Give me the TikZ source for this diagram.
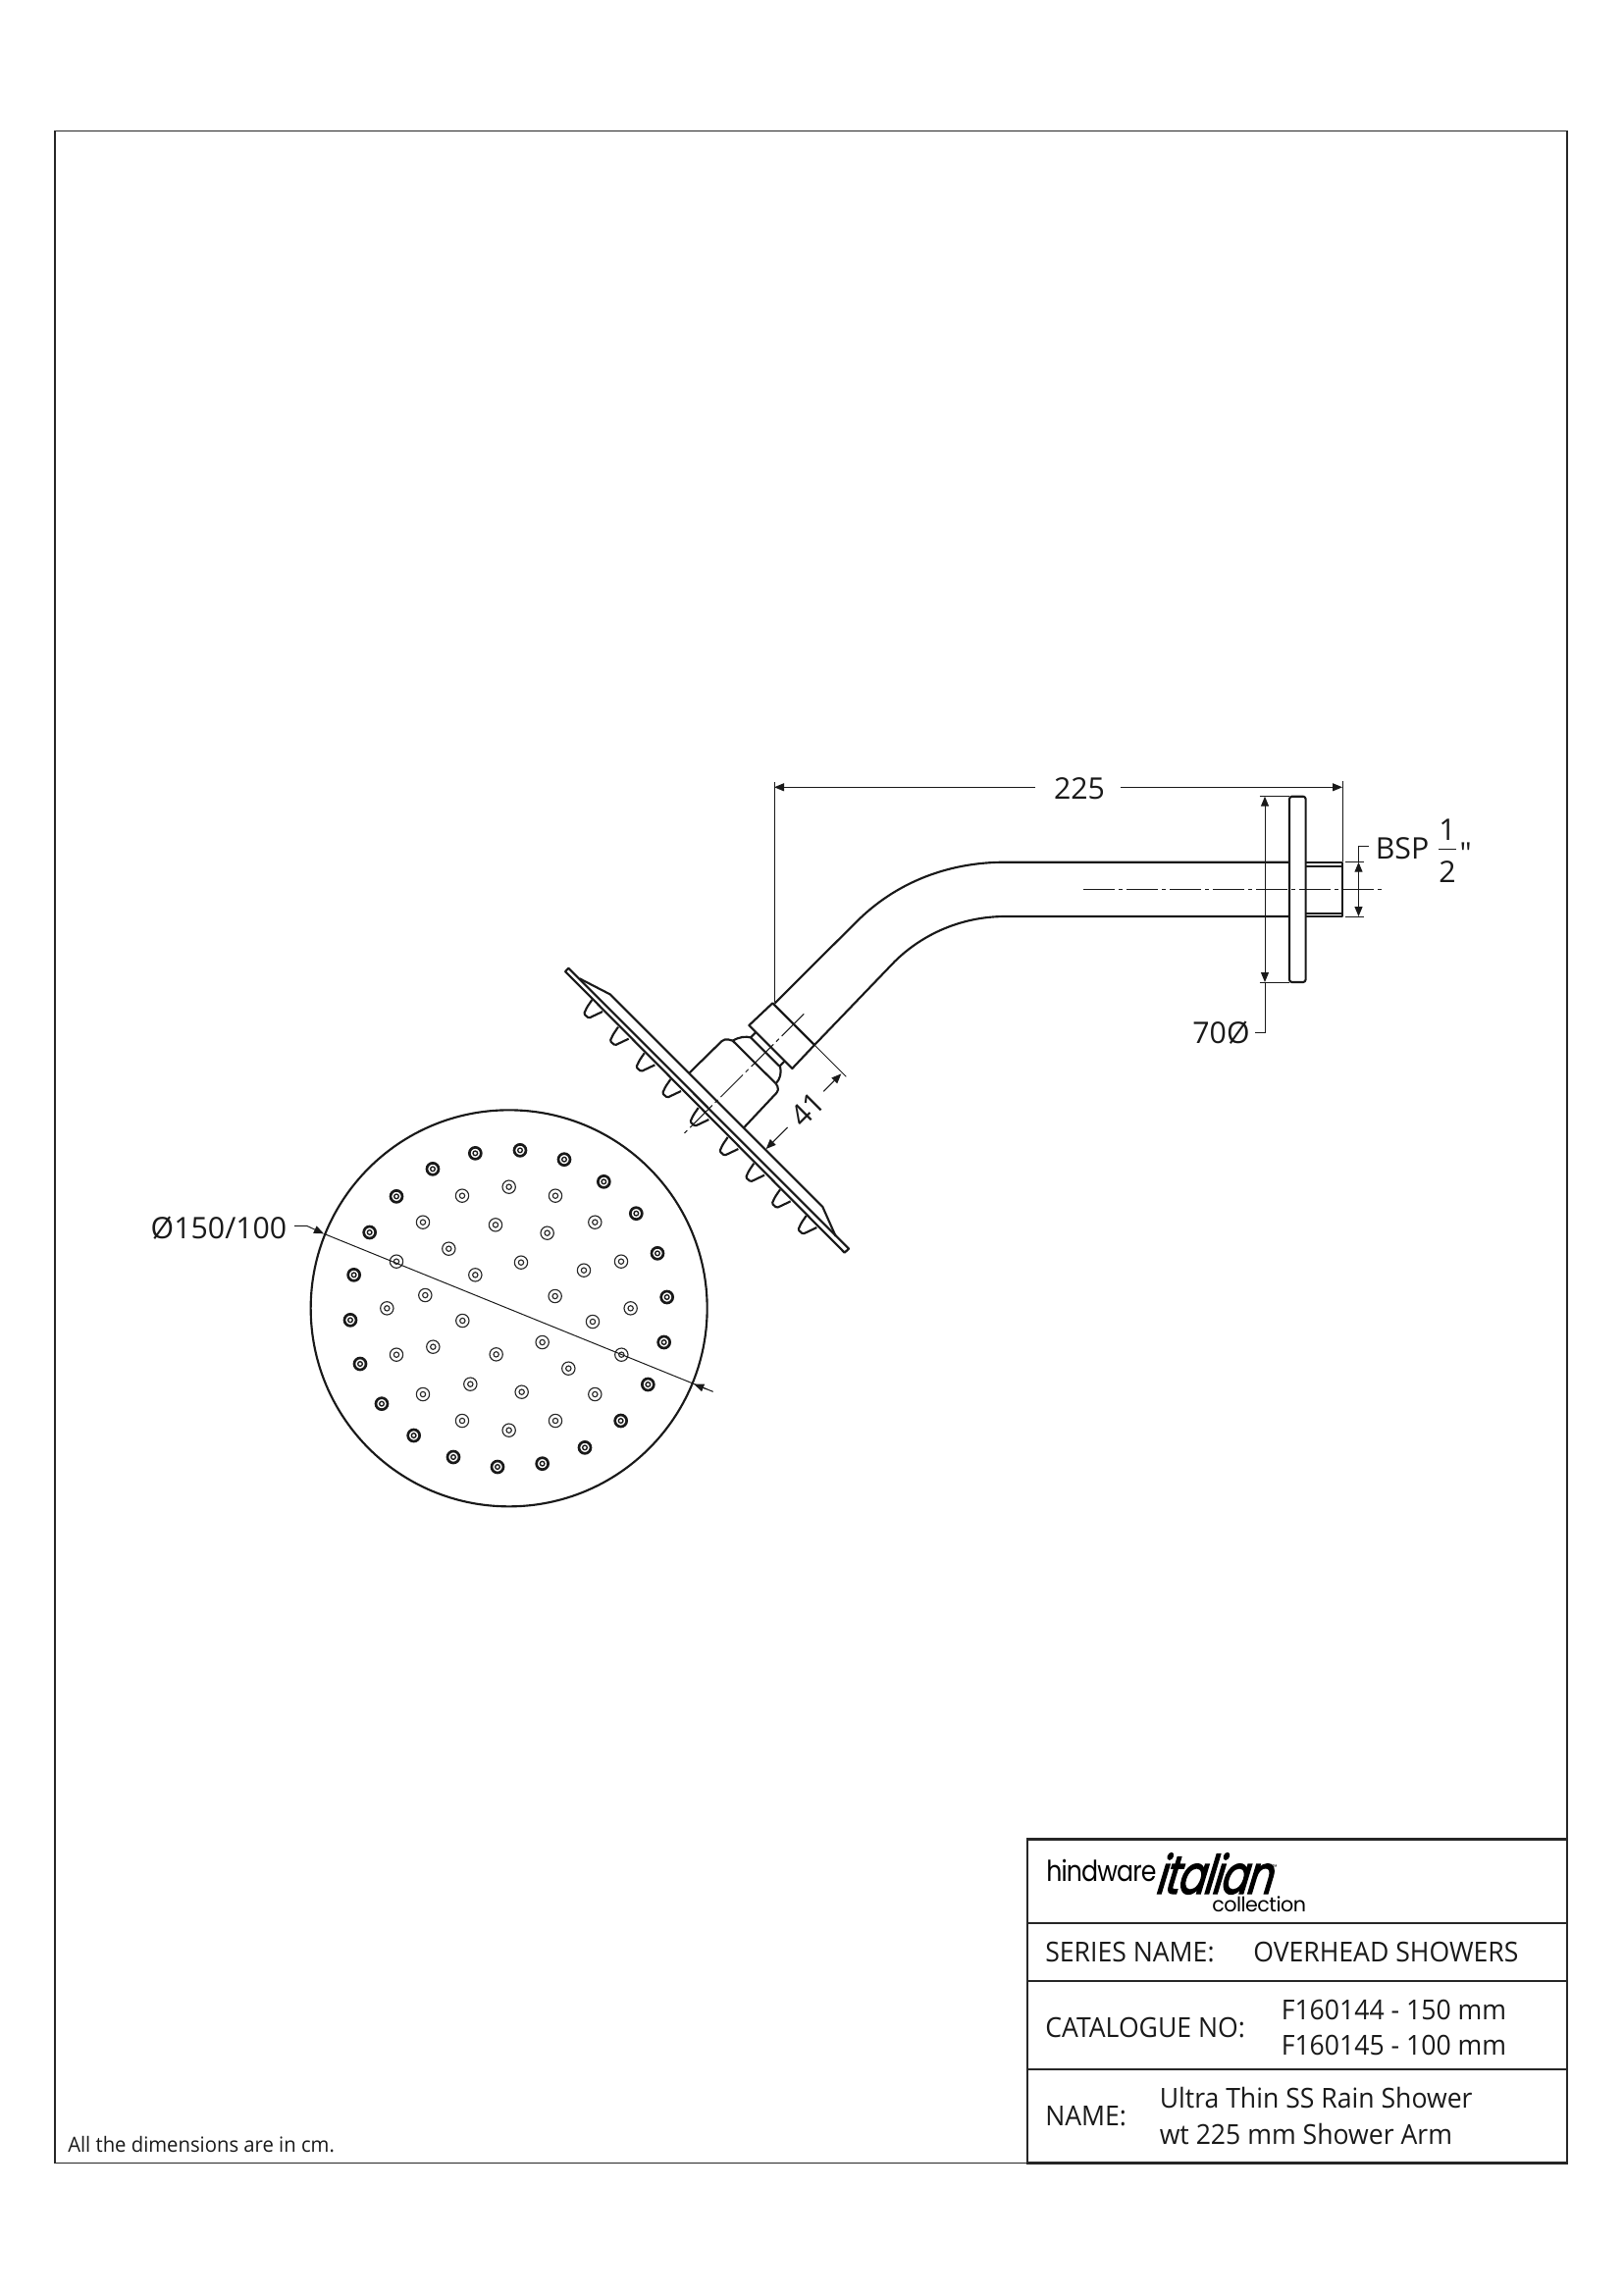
\documentclass[tikz,border=0pt]{standalone}
\usepackage{fontspec}
\setmainfont[FakeStretch=0.95]{Open Sans}
\newfontfamily\plainfont{Open Sans}
\newfontfamily\dimfont{Open Sans}
\newfontfamily\logofont[FakeStretch=0.86]{Poppins}
\newfontfamily\logowide{Poppins}
\newfontfamily\logosc[FakeSlant=0.3,FakeBold=2.2,FakeStretch=0.76]{Poppins}
\usetikzlibrary{arrows.meta}
\tikzset{
  frameline/.style={line width=0.9pt,draw=black!85},
  tableline/.style={line width=1.8pt,draw=black!85},
  part/.style={line width=1.6pt,line join=round,draw=black!90},
  thin line/.style={line width=0.75pt,draw=black!90},
  dimline/.style={thin line,-{Triangle[length=7.5pt,width=6pt]}},
  dimboth/.style={thin line,{Triangle[length=7.5pt,width=6pt]}-{Triangle[length=7.5pt,width=6pt]}},
  label/.style={inner sep=0pt,font=\dimfont\fontsize{22.7}{26}\selectfont,text=black!90},
  tabletext/.style={inner sep=0pt,anchor=base west,font=\fontsize{21}{25}\selectfont,text=black!90},
  centre line/.style={thin line,dash pattern=on 24pt off 3pt on 3pt off 3pt},
  dark/.pic={\draw[line width=2pt,black!90] (0,0) circle (18);\draw[line width=1pt,black!90] (0,0) circle (7);},
  light/.pic={\draw[line width=0.85pt,black!85] (0,0) circle (20);\draw[line width=0.85pt,black!85] (0,0) circle (8);},
}
\begin{document}
\begin{tikzpicture}[x=0.75pt,y=-0.75pt]
\useasboundingbox (0,0) rectangle (1654,2339);
% outer frame
\draw[frameline] (56,133.5) rectangle (1597,2204.5);
\node[inner sep=0pt,anchor=base west,font=\fontsize{16}{20}\selectfont,text=black!90] (note) at (69,2193.5) {All the dimensions are in cm.};
% title block
\draw[tableline] (1047,1874.5) rectangle (1597,2204.5);
\draw[tableline] (1047,1960) -- (1597,1960);
\draw[tableline] (1047,2019) -- (1597,2019);
\draw[tableline] (1047,2109) -- (1597,2109);
\node[inner sep=0pt,anchor=base west,font=\logofont\fontsize{22}{24}\selectfont] (logoa) at (1066,1917) {\addfontfeature{LetterSpace=-3}hindware};
\node[inner sep=0pt,anchor=base west,font=\logosc\fontsize{41}{44}\selectfont] (logob) at (1176,1930) {\addfontfeature{LetterSpace=-3}italian};
\node[inner sep=0pt,font=\logofont\fontsize{5}{6}\selectfont] (logotm) at (1299,1903) {™};
\node[inner sep=0pt,anchor=base west,font=\logowide\fontsize{15.5}{18}\selectfont] (logoc) at (1235,1948) {\addfontfeature{LetterSpace=-2.5}collection};
\node[tabletext] (t1) at (1065,1999.5) {SERIES NAME:};
\node[tabletext] (t2) at (1277,1999.5) {OVERHEAD SHOWERS};
\node[tabletext] (t3) at (1065,2076) {CATALOGUE NO:};
\node[tabletext] (t4) at (1305.5,2058.5) {F160144 - 150 mm};
\node[tabletext] (t5) at (1305.5,2094) {F160145 - 100 mm};
\node[tabletext] (t6) at (1065,2166) {NAME:};
\node[tabletext] (t7) at (1181.5,2148.5) {Ultra Thin SS Rain Shower};
\node[tabletext] (t8) at (1181.5,2185) {wt 225 mm Shower Arm};
% side view, in zoom units of the crop at (550,770)
\begin{scope}[shift={(550,770)},x=0.25pt,y=-0.25pt]
  % plate
  \draw[part] (78,660) -- (88,650) -- (945,1508) -- (932,1520) -- cycle;
  \draw[part] (122,682) -- (215,730) -- (865,1380) -- (905,1470);
  % nozzles
  \foreach \a/\b in {165/775,245/858,325/938,405/1018,490/1105,580/1195,660/1275,740/1355,820/1435}{
    \draw[part,rounded corners=1pt] (\a-5,\b-28) -- (\a-20,\b-6) -- (\a-30,\b+15) -- (\a-15,\b+28) -- (\a+27,\b+8);
  }
  % body
  \draw[part,rounded corners=3pt] (458,970) -- (565,865) -- (590,872);
  \draw[part,rounded corners=3pt] (625,1137) -- (733,1022) -- (722,1003);
  \draw[part] (590,872) -- (722,1003);
  \draw[part] (590,872) .. controls (610,860) and (630,858) .. (645,862);
  \draw[part] (735,950) .. controls (740,970) and (735,990) .. (722,1003);
  % neck
  \draw[part] (660,847) -- (645,862) -- (733,950) -- (748,935);
  % collar
  \draw[part] (712,757) -- (840,885) -- (772,957) -- (640,825) -- cycle;
  % centre line
  \draw[centre line] (808,790) -- (435,1162);
  % 41 dimension
  \coordinate (e41a) at (840,885);
  \coordinate (e41b) at (937,982);
  \draw[thin line] (e41a) -- (e41b);
  \coordinate (a41a) at (868,1027);
  \coordinate (a41b) at (922,973);
  \coordinate (a41c) at (758,1137);
  \coordinate (a41d) at (692,1203);
  \draw[dimline] (a41a) -- (a41b);
  \draw[dimline] (a41c) -- (a41d);
  \node[label,rotate=45] (d41) at (818,1082) {41};
\end{scope}
% arm (pixel units)
\draw[part] (789.5,1022.5) -- (872.3,940) .. controls (912,900) and (965,878.7) .. (1024.5,878.7) -- (1314,878.7);
\draw[part] (830,1065) -- (911.7,980) .. controls (940,952) and (980,934) .. (1024.5,934) -- (1314,934);
% flange
\draw[part,rounded corners=2pt] (1314,811.7) rectangle (1330.6,1001);
% stub
\draw[part] (1330.6,878.7) -- (1368,878.7) -- (1368,934) -- (1330.6,934);
\draw[part] (1330.6,882.7) -- (1368,882.7);
\draw[part] (1330.6,930.7) -- (1368,930.7);
% centre line
\draw[centre line] (1104,906.7) -- (1408,906.7);
% 225 dimension
\draw[thin line] (789,797) -- (789,1021);
\draw[thin line] (1368,796) -- (1368,878);
\draw[dimline] (1055,802.3) -- (789,802.3);
\draw[dimline] (1141.6,802.3) -- (1368,802.3);
\node[label] (d225) at (1100,804) {225};
% 70 dimension
\draw[thin line] (1283.7,811.7) -- (1314,811.7);
\draw[thin line] (1283.7,1001) -- (1314,1001);
\draw[dimboth] (1289,811.7) -- (1289,1001);
\draw[thin line] (1289,1001) -- (1289,1052.7) -- (1278.8,1052.7);
\node[label] (d70) at (1244.5,1053) {70Ø};
% BSP dimension
\draw[thin line] (1371,878.7) -- (1390,878.7);
\draw[thin line] (1371,934) -- (1390,934);
\draw[dimboth] (1384.5,878.7) -- (1384.5,934);
\draw[thin line] (1384.5,878.7) -- (1384.5,862.7) -- (1394.7,862.7);
\node[label] (bsp) at (1429,865) {BSP};
\node[label] (num) at (1475,846) {1};
\node[label] (den) at (1475,889) {2};
\draw[thin line] (1466,865) -- (1484,865);
\node[label] (inch) at (1493.6,870) {"};
% face view, in zoom units of the crop at (300,1120)
\begin{scope}[shift={(300,1120)},x=0.25pt,y=-0.25pt]
  \draw[part] (656,640) circle (606);
  \foreach \a/\b in {553/166,690/157,825/185,946/253,1045/350,1110/472,1139/606,1130/744,1081/873,998/984,888/1066,758/1115,621/1125,486/1095,365/1029,267/932,201/810,171/676,182/538,230/408,312/298,423/214}
    \pic at (\a,\b) {dark};
  \foreach \a/\b in {656/269,798/296,919/377,999/497,1028/640,1000/782,919/903,798/984,656/1013,513/984,393/903,312/782,283/640,312/497,393/377,513/296,773/410,885/524,912/681,838/824,695/896,538/872,424/758,400/600,472/458,615/385,693/500,797/603,758/744,617/781,514/678,553/538}
    \pic at (\a,\b) {light};
  \coordinate (fa) at (90,412);
  \coordinate (fb) at (1222,872);
  \coordinate (fc) at (1280,895);
  \draw[thin line] (fa) -- (fc);
  \draw[dimline] (1262,888) -- (fb);
  \draw[dimline] (0,388) -- (38,388) -- (fa);
\end{scope}
\node[label] (d150) at (223,1252) {Ø150/100};
\end{tikzpicture}
\end{document}
